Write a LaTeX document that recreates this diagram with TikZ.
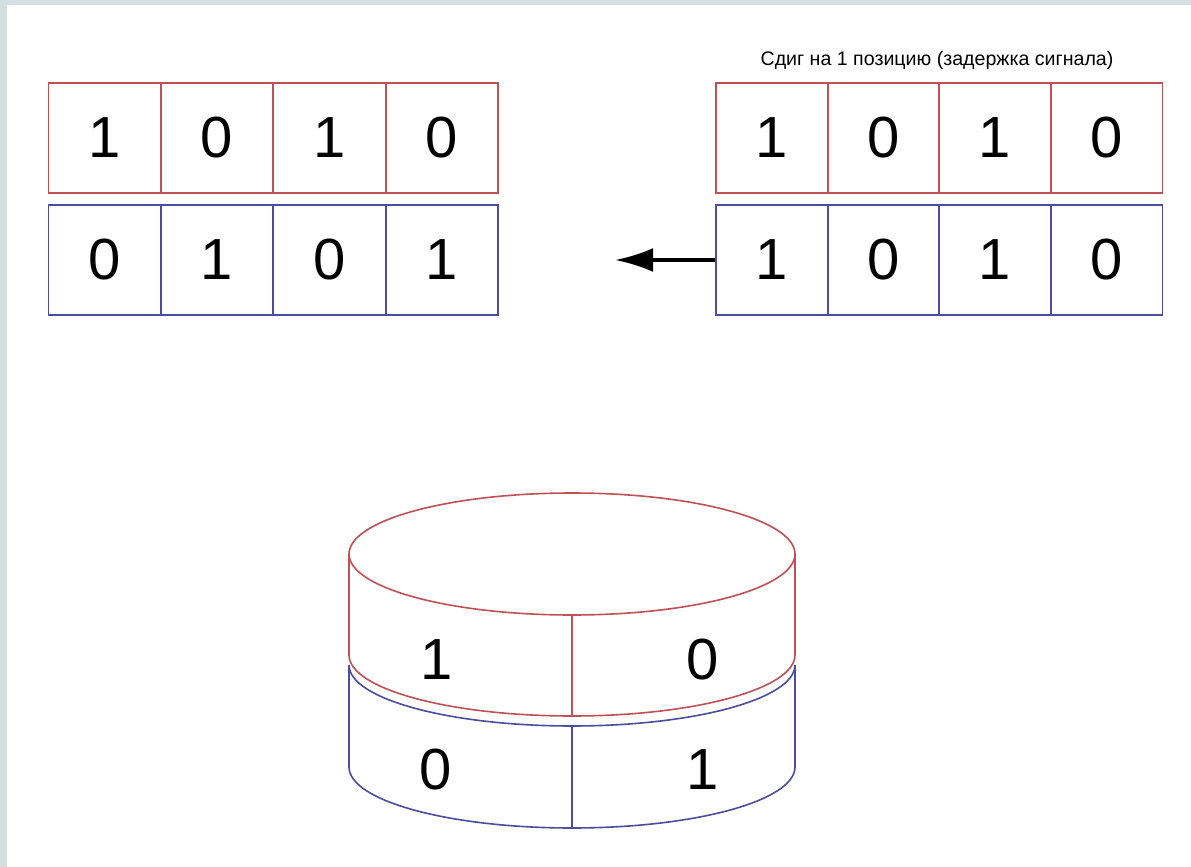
\documentclass[tikz,border=0pt]{standalone}
\usepackage{fontspec}
\setmainfont{Liberation Sans}
\usetikzlibrary{arrows.meta, positioning}
\definecolor{reg_red}{RGB}{192, 80, 86}
\definecolor{reg_blue}{RGB}{76, 76, 160}
\definecolor{page_grey}{RGB}{212, 223, 226}

\tikzset{
    bitcell/.style={draw, line width=0.8pt, minimum width=56pt, minimum height=55pt,
        inner sep=0pt, font=\fontsize{29}{32}\selectfont},
    bitlabel/.style={inner sep=0pt, font=\fontsize{29}{32}\selectfont},
    drum/.style={line width=0.8pt}
}

\begin{document}
\begin{tikzpicture}[x=0.5pt, y=0.5pt]
    % Page
    \fill[page_grey] (0,0) rectangle (1191,-867);
    \fill[white] (7,-5) rectangle (1191,-867);
    \useasboundingbox (0,0) rectangle (1191,-867);

    % Register before the shift
    \foreach \b [count=\i from 0] in {1,0,1,0}
        \node[bitcell, reg_red, text=black] (inR\i) at (104.5+112.5*\i,-138) {\b};
    \foreach \b [count=\i from 0] in {0,1,0,1}
        \node[bitcell, reg_blue, text=black] (inB\i) at (104.5+112.5*\i,-260) {\b};

    % Register shifted by one position
    \node[font=\fontsize{9.8}{12}\selectfont] (shift) at (937,-60)
        {Сдиг на 1 позицию (задержка сигнала)};
    \foreach \b [count=\i from 0] in {1,0,1,0}
        \node[bitcell, reg_red, text=black] (outR\i) at (772+111.5*\i,-138) {\b};
    \foreach \b [count=\i from 0] in {1,0,1,0}
        \node[bitcell, reg_blue, text=black] (outB\i) at (772+111.5*\i,-260) {\b};

    % Arrow
    \coordinate[left=50pt of outB0.west] (tip);
    \draw[-{Latex[length=19pt, width=12pt]}, line width=1.6pt] (outB0.west) -- (tip);

    % Ring: red band
    \draw[drum, reg_red] (572,-554) ellipse[x radius=223, y radius=61];
    \draw[drum, reg_red] (349,-554) -- (349,-655)
        arc[start angle=180, end angle=360, x radius=223, y radius=61] -- (795,-554);
    \draw[drum, reg_red] (572,-615) -- (572,-716);

    % Ring: blue band
    \draw[drum, reg_blue] (349,-665)
        arc[start angle=180, end angle=360, x radius=223, y radius=61];
    \draw[drum, reg_blue] (349,-665) -- (349,-767)
        arc[start angle=180, end angle=360, x radius=223, y radius=61] -- (795,-665);
    \draw[drum, reg_blue] (572,-726) -- (572,-828);

    % Labels
    \node[bitlabel] (ringR0) at (437,-660) {1};
    \node[bitlabel] (ringR1) at (703,-660) {0};
    \node[bitlabel] (ringB0) at (436,-770) {0};
    \node[bitlabel] (ringB1) at (703,-770) {1};
\end{tikzpicture}
\end{document}
